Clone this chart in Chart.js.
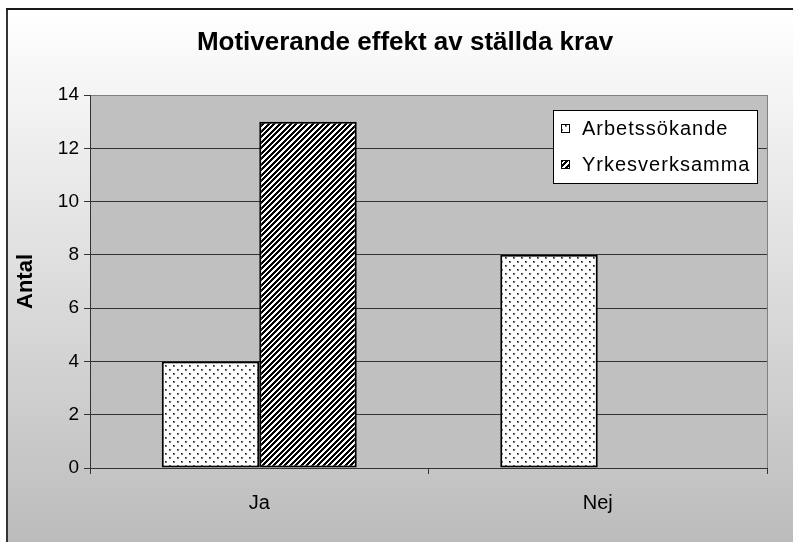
<!DOCTYPE html>
<html>
<head>
<meta charset="utf-8">
<script src="https://cdn.jsdelivr.net/npm/chart.js@4.4.1/dist/chart.umd.min.js"></script>
<style>
    html, body { margin: 0; padding: 0; background: #fff; }
    #wrap { width: 793px; height: 542px; }
</style>
</head>
<body>
<div id="wrap"><canvas id="chart"></canvas></div>
<script>
// --- Data ---
const categories = ['Ja', 'Nej'];
const seriesNames = ['Arbetssökande', 'Yrkesverksamma'];
const arbetssokande = [4, 8];
const yrkesverksamma = [13, null];
const yMin = 0;
const yMax = 14;
const yStep = 2;
const chartTitle = 'Motiverande effekt av ställda krav';

const FONT = "'Liberation Sans', Arial, sans-serif";

// Excel-like fill patterns
function dotPattern(ctx) {
    const c = document.createElement('canvas');
    c.width = 8; c.height = 8;
    const g = c.getContext('2d');
    g.fillStyle = '#fff';
    g.fillRect(0, 0, 8, 8);
    g.fillStyle = '#777';
    g.fillRect(1, 1, 2, 2);
    g.fillRect(5, 5, 2, 2);
    g.fillStyle = '#111';
    g.fillRect(1, 1, 1, 1);
    g.fillRect(5, 5, 1, 1);
    return ctx.createPattern(c, 'repeat');
}

function stripePattern(ctx) {
    const size = 11, period = 5.5;
    const c = document.createElement('canvas');
    c.width = size; c.height = size;
    const g = c.getContext('2d');
    const img = g.createImageData(size, size);
    for (let y = 0; y < size; y++) {
        for (let x = 0; x < size; x++) {
            const v = ((x + y) % period) / period;
            const col = v < 0.5 ? 0 : 255;
            const i = (y * size + x) * 4;
            img.data[i] = img.data[i + 1] = img.data[i + 2] = col;
            img.data[i + 3] = 255;
        }
    }
    g.putImageData(img, 0, 0);
    return ctx.createPattern(c, 'repeat');
}

const canvas = document.getElementById('chart');
const ctx = canvas.getContext('2d');
const fills = [dotPattern(ctx), stripePattern(ctx)];

// Fondo con degradado, marco, área de trazado gris y título
const backgroundPlugin = {
    id: 'background',
    beforeDraw(chart) {
        const { ctx, width, height, chartArea } = chart;
        ctx.save();
        ctx.fillStyle = '#fff';
        ctx.fillRect(0, 0, width, height);
        const grad = ctx.createLinearGradient(0, 8, 0, height);
        grad.addColorStop(0, '#ffffff');
        grad.addColorStop(1, '#bcbcbc');
        ctx.fillStyle = grad;
        ctx.fillRect(7, 9, width - 7, height - 9);
        ctx.fillStyle = '#333';
        ctx.fillRect(6, 8, 2, height - 8);
        ctx.fillStyle = '#1a1a1a';
        ctx.fillRect(6, 8, width - 6, 2);
        ctx.fillStyle = '#c0c0c0';
        ctx.fillRect(chartArea.left, chartArea.top, chartArea.right - chartArea.left, chartArea.bottom - chartArea.top);
        ctx.strokeStyle = '#808080';
        ctx.lineWidth = 1;
        ctx.beginPath();
        ctx.moveTo(chartArea.right + 0.5, chartArea.top);
        ctx.lineTo(chartArea.right + 0.5, chartArea.bottom);
        ctx.stroke();

        ctx.fillStyle = '#000';
        ctx.font = 'bold 26px ' + FONT;
        ctx.textAlign = 'center';
        ctx.textBaseline = 'middle';
        ctx.fillText(chartTitle, 405, 43);
        ctx.restore();
    }
};

// Leyenda dentro del área de trazado
const boxLegendPlugin = {
    id: 'boxLegend',
    afterDraw(chart) {
        const { ctx, chartArea } = chart;
        const w = 204, h = 73;
        const x = chartArea.right - 10 - w;
        const y = chartArea.top + 15;
        ctx.save();
        ctx.fillStyle = '#fff';
        ctx.fillRect(x, y, w, h);
        ctx.strokeStyle = '#000';
        ctx.lineWidth = 1;
        ctx.strokeRect(x + 0.5, y + 0.5, w, h);
        ctx.font = '20px ' + FONT;
        ctx.letterSpacing = '1px';
        ctx.textBaseline = 'middle';
        chart.data.datasets.forEach((ds, i) => {
            const rowY = y + 18 + i * 36;
            ctx.fillStyle = ds.backgroundColor;
            ctx.fillRect(x + 8, rowY - 4, 9, 9);
            ctx.strokeRect(x + 8.5, rowY - 3.5, 8, 8);
            ctx.fillStyle = '#000';
            ctx.fillText(ds.label, x + 29, rowY + 1);
        });
        ctx.restore();
    }
};

new Chart(ctx, {
    type: 'bar',
    data: {
        labels: categories,
        datasets: [
            {
                label: seriesNames[0],
                data: arbetssokande,
                backgroundColor: fills[0],
                borderColor: '#000',
                borderWidth: 2,
                borderSkipped: false
            },
            {
                label: seriesNames[1],
                data: yrkesverksamma,
                backgroundColor: fills[1],
                borderColor: '#000',
                borderWidth: 2,
                borderSkipped: false
            }
        ]
    },
    options: {
        responsive: true,
        maintainAspectRatio: false,
        animation: false,
        layout: { padding: { left: 6, right: 26, top: 95, bottom: 0 } },
        datasets: { bar: { categoryPercentage: 0.576, barPercentage: 1.0 } },
        plugins: {
            legend: { display: false },
            tooltip: { enabled: false },
            title: { display: false }
        },
        scales: {
            x: {
                afterFit(scale) { scale.height = 74; },
                grid: {
                    drawOnChartArea: false,
                    drawTicks: true,
                    tickLength: 6,
                    tickColor: '#333',
                    offset: true
                },
                border: { color: '#333', width: 1 },
                ticks: {
                    color: '#000',
                    padding: 17,
                    font: { family: FONT, size: 20 }
                }
            },
            y: {
                min: yMin,
                max: yMax,
                afterFit(scale) { scale.width = 84; },
                grid: {
                    color: (c) => (c.tick && c.tick.value === yMax ? '#808080' : '#333'),
                    tickColor: '#333',
                    tickLength: 6
                },
                border: { color: '#333', width: 1 },
                ticks: {
                    stepSize: yStep,
                    color: '#000',
                    padding: 5,
                    font: { family: FONT, size: 19 }
                },
                title: {
                    display: true,
                    text: 'Antal',
                    color: '#000',
                    font: { family: FONT, size: 22, weight: 'bold' },
                    padding: { top: 7, bottom: 0 }
                }
            }
        }
    },
    plugins: [backgroundPlugin, boxLegendPlugin]
});
</script>
</body>
</html>
